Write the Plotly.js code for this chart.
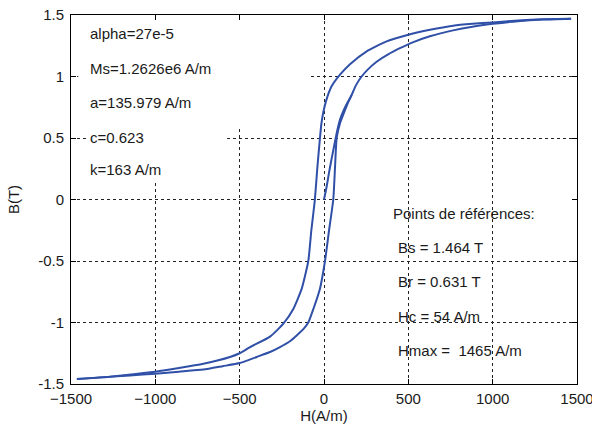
<!DOCTYPE html>
<html>
<head>
<meta charset="utf-8">
<script src="https://cdn.plot.ly/plotly-3.0.1.min.js"></script>
<style>html,body{margin:0;padding:0;background:#fff;}#chart{width:592px;height:426px;}</style>
</head>
<body>
<div id="chart"></div>
<script>
// Descending branch (H from +Hmax to -Hmax)
var H_desc = [1465, 1300, 1150, 1000, 880, 766, 628, 500, 371, 253, 154, 95, 45, 12, -4, -15, -24, -40, -54, -75, -93, -132, -182, -241, -320, -438, -500, -557, -715, -860, -1000, -1130, -1268, -1465];
var B_desc = [1.47, 1.465, 1.455, 1.44, 1.428, 1.413, 1.38, 1.34, 1.286, 1.205, 1.10, 1.015, 0.92, 0.80, 0.71, 0.62, 0.50, 0.25, 0.0, -0.25, -0.50, -0.725, -0.89, -1.01, -1.115, -1.20, -1.25, -1.28, -1.335, -1.37, -1.40, -1.42, -1.44, -1.46];
// Ascending branch (H from -Hmax to +Hmax)
var H_asc = [-1465, -1300, -1150, -1000, -860, -715, -600, -500, -399, -320, -261, -200, -162, -120, -93, -63, -24, 6, 30, 55, 65, 75, 95, 114, 140, 164, 190, 223, 262, 312, 380, 450, 530, 628, 765, 880, 1001, 1150, 1300, 1465];
var B_asc = [-1.46, -1.445, -1.43, -1.416, -1.40, -1.383, -1.355, -1.33, -1.28, -1.24, -1.20, -1.15, -1.105, -1.05, -1.0, -0.89, -0.725, -0.50, -0.25, 0.0, 0.25, 0.50, 0.62, 0.69, 0.78, 0.85, 0.93, 1.0, 1.06, 1.12, 1.18, 1.23, 1.28, 1.327, 1.375, 1.405, 1.428, 1.45, 1.463, 1.47];
// Initial magnetization curve
var H_init = [0, 15, 30, 45, 55, 65, 80, 95, 115, 140, 165];
var B_init = [0, 0.10, 0.22, 0.33, 0.40, 0.47, 0.57, 0.65, 0.72, 0.79, 0.85];

var xTicks = [-1500, -1000, -500, 0, 500, 1000, 1500];
var yTicks = [-1.5, -1, -0.5, 0, 0.5, 1, 1.5];
var yTickText = ['-1.5', '-1', '-0.5', '0', '0.5', '1', '1.5'];

var paramLabels = ['alpha=27e-5', 'Ms=1.2626e6 A/m', 'a=135.979 A/m', 'c=0.623', 'k=163 A/m'];
var refLabels = ['Points de références:', 'Bs = 1.464 T', 'Br = 0.631 T', 'Hc = 54 A/m', 'Hmax = \u00A01465 A/m'];

var FONT = 'Liberation Sans, Arial, sans-serif';
var lineStyle = {color: '#3050a8', width: 2, shape: 'spline', smoothing: 0.5};

var traces = [
  {x: H_desc, y: B_desc, mode: 'lines', line: lineStyle, hoverinfo: 'skip'},
  {x: H_asc, y: B_asc, mode: 'lines', line: lineStyle, hoverinfo: 'skip'},
  {x: H_init, y: B_init, mode: 'lines', line: lineStyle, hoverinfo: 'skip'}
];

var annotations = [];
var leftY = [0.951, 0.856, 0.764, 0.669, 0.580];
paramLabels.forEach(function(t, i) {
  annotations.push({text: t, xref: 'paper', yref: 'paper', x: 0.034, y: leftY[i],
    xanchor: 'left', yanchor: 'middle', showarrow: false,
    font: {family: FONT, size: 15, color: '#1a1a1a'}});
});
var rightX = [0.633, 0.643, 0.643, 0.643, 0.643];
var rightY = [0.463, 0.369, 0.279, 0.182, 0.090];
refLabels.forEach(function(t, i) {
  annotations.push({text: t, xref: 'paper', yref: 'paper', x: rightX[i], y: rightY[i],
    xanchor: 'left', yanchor: 'middle', showarrow: false,
    font: {family: FONT, size: 15, color: '#1a1a1a'}});
});

var white = {type: 'rect', layer: 'between', fillcolor: '#fff', line: {width: 0}, xref: 'x', yref: 'y'};
var shapes = [
  Object.assign({}, white, {x0: -1457, x1: -95, y0: 0.58, y1: 1.49}),
  Object.assign({}, white, {x0: -1398, x1: -574, y0: 0.157, y1: 0.58}),
  Object.assign({}, white, {x0: 166, x1: 1480, y0: -0.012, y1: 0.012})
];

var axisCommon = {
  showgrid: true, gridcolor: '#222', griddash: '3px,3px', gridwidth: 1,
  showline: true, mirror: 'ticks', linecolor: '#000', linewidth: 1,
  ticks: 'inside', ticklen: 5, tickcolor: '#000', zeroline: false,
  tickfont: {family: FONT, size: 15, color: '#1a1a1a'}
};

var layout = {
  width: 592, height: 426,
  margin: {l: 71, r: 15, t: 15, b: 42},
  paper_bgcolor: '#fff', plot_bgcolor: '#fff',
  showlegend: false,
  xaxis: Object.assign({}, axisCommon, {
    range: [-1500, 1500], tickvals: xTicks, ticklabeloverflow: 'allow', ticklabelstandoff: 1,
    title: {text: 'H(A/m)', font: {family: FONT, size: 15, color: '#1a1a1a'}, standoff: 3}
  }),
  yaxis: Object.assign({}, axisCommon, {
    range: [-1.5, 1.5], tickvals: yTicks, ticktext: yTickText, ticklabelstandoff: 3,
    title: {text: 'B(T)', font: {family: FONT, size: 15, color: '#1a1a1a'}, standoff: 14}
  }),
  annotations: annotations,
  shapes: shapes
};

Plotly.newPlot('chart', traces, layout, {staticPlot: true, displayModeBar: false});
</script>
</body>
</html>
